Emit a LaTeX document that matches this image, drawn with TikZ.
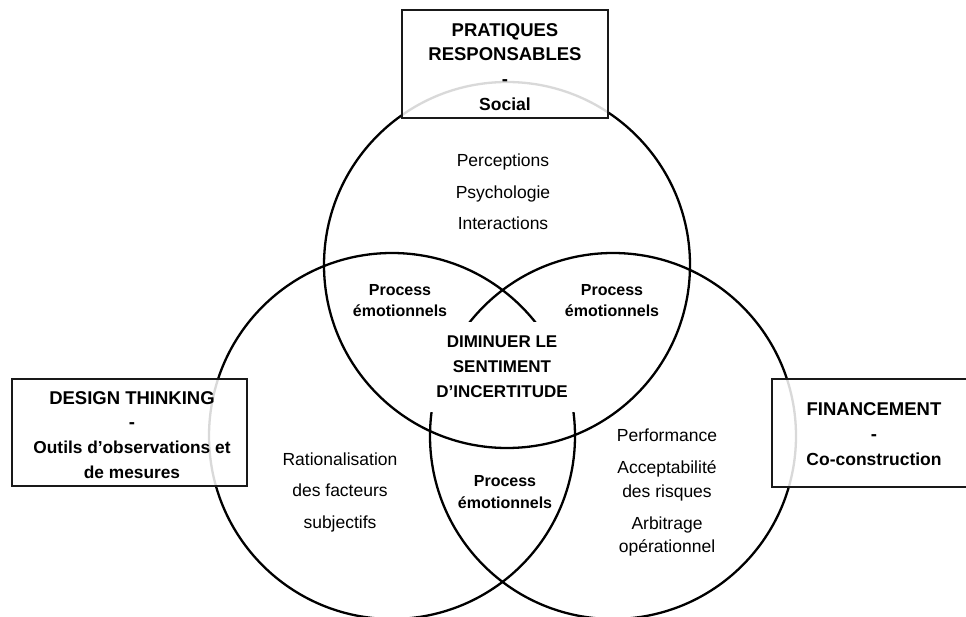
\documentclass[tikz,border=0pt]{standalone}
\usepackage{fontspec}
\setmainfont{Liberation Sans}
\usetikzlibrary{positioning}

\tikzset{
  cercle/.style={draw=black, line width=2.3pt},
  cadre/.style={rectangle, draw=black!90, line width=1.2pt, fill=white,
    fill opacity=0.85, inner sep=0pt},
  titre/.style={align=center, inner sep=0pt,
    font=\fontsize{18.5}{24.8}\selectfont\bfseries},
  process/.style={align=center, inner sep=0pt,
    font=\fontsize{16}{21.5}\selectfont\bfseries},
  liste/.style={align=center, inner sep=0pt,
    font=\fontsize{17.5}{31.5}\selectfont}
}

\begin{document}
\begin{tikzpicture}[x=1pt, y=-1pt]
  \clip (0,0) rectangle (966,617);

  % les trois cercles
  \coordinate (social) at (507,265);
  \coordinate (design) at (392,436);
  \coordinate (finance) at (613,436);
  \draw[cercle] (social) circle[radius=183pt];
  \draw[cercle] (design) circle[radius=183pt];
  \draw[cercle] (finance) circle[radius=183pt];

  % cadres
  \node[cadre, minimum width=206pt, minimum height=108pt] (cadrehaut) at (505,64) {};
  \node[cadre, minimum width=235pt, minimum height=107pt] (cadregauche) at (129.5,432.5) {};
  \node[cadre, minimum width=240pt, minimum height=108pt] (cadredroit) at (892,433) {};

  % titres
  \node[titre] (pratiques) at (505,67)
    {PRATIQUES\\RESPONSABLES\\-\\{\fontsize{17.5}{24.8}\selectfont Social}};
  \node[titre] (designthinking) at (132,435)
    {DESIGN THINKING\\-\\{\fontsize{17.3}{24.8}\selectfont Outils d’observations et}\\{\fontsize{17.3}{24.8}\selectfont de mesures}};
  \node[titre] (financement) at (874,434)
    {FINANCEMENT\\-\\{\fontsize{17.5}{24.8}\selectfont Co-construction}};

  % contenus
  \node[liste] (perceptions) at (503,192) {Perceptions\\Psychologie\\Interactions};
  \node[liste] (rationalisation) at (340,492) {Rationalisation\\des facteurs\\subjectifs};
  \node[liste, font=\fontsize{17.5}{23.5}\selectfont] (performance) at (667,492.5)
    {Performance\\[8.5pt]Acceptabilité\\des risques\\[8.5pt]Arbitrage\\opérationnel};

  \node[process] (processgauche) at (400,300.5) {Process\\émotionnels};
  \node[process] (processdroit) at (612,300.5) {Process\\émotionnels};
  \node[process] (processbas) at (505,492) {Process\\émotionnels};

  \node[process, fill=white, minimum width=152pt, minimum height=90pt,
    font=\fontsize{17}{25}\selectfont\bfseries] (incertitude) at (502,367)
    {DIMINUER LE\\SENTIMENT\\D’INCERTITUDE};
\end{tikzpicture}
\end{document}
